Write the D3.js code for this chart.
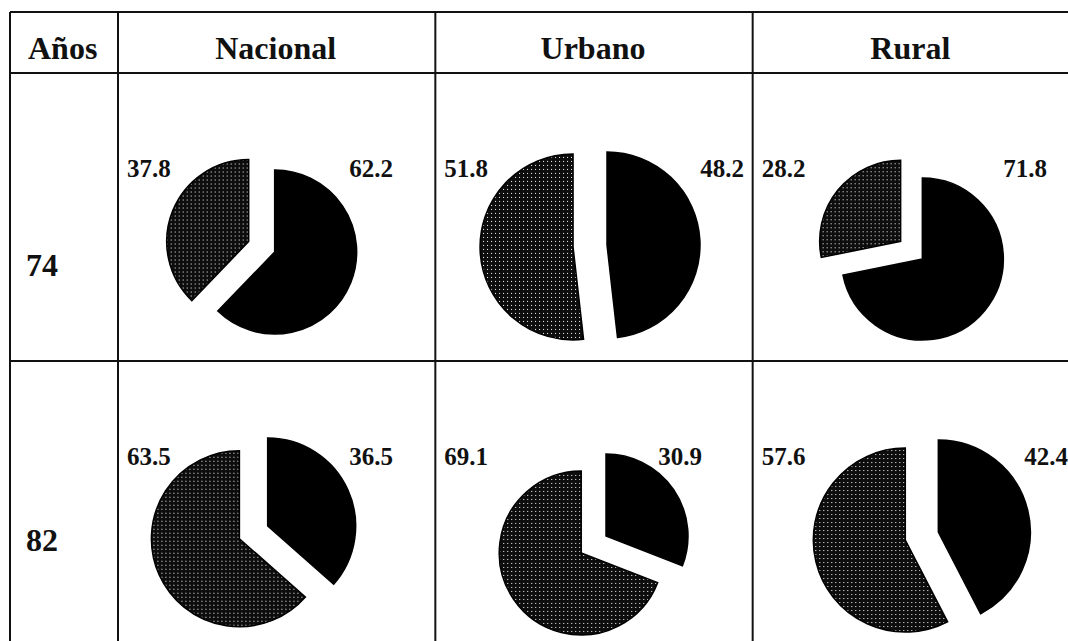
<!DOCTYPE html>
<html>
<head>
<meta charset="utf-8">
<script src="https://cdn.jsdelivr.net/npm/d3@7"></script>
<style>
  html, body { margin: 0; padding: 0; background: #fff; }
  svg { display: block; }
  text { font-family: "Liberation Serif", "DejaVu Serif", serif; font-weight: bold; fill: #111; }
</style>
</head>
<body>
<svg id="chart" width="1068" height="641"></svg>
<script>
// ---- data ----
const headerLabel = "Años";
const columns = ["Nacional", "Urbano", "Rural"];
const years = ["74", "82"];
const blackValues = [[62.2, 48.2, 71.8], [36.5, 30.9, 42.4]];   // right-hand label, solid slice
const dottedValues = [[37.8, 51.8, 28.2], [63.5, 69.1, 57.6]];  // left-hand label, stippled slice

// ---- layout ----
const tableLeft = 10, firstColRight = 118, tableRight = 1068;
const headerTop = 12, headerBottom = 73, rowDivider = 361, tableBottom = 641;
const colX = d3.scaleBand().domain(columns).range([firstColRight, tableRight + 2]);
// per-cell pie geometry (offset of solid-slice center from band center, radius, explode of stippled slice, right label x)
const pieGeom = [
  [{dx: -2, dy: 252, r: 82, ex: 28, lab: 393}, {dx: 13, dy: 245, r: 93, ex: 34, lab: 744}, {dx: 11, dy: 259, r: 81, ex: 28, lab: 1047}],
  [{dx: -9, dy: 526, r: 88, ex: 31, lab: 393}, {dx: 12, dy: 536, r: 82, ex: 30, lab: 702}, {dx: 27, dy: 532, r: 92, ex: 34, lab: 1068}]
];
const rowLabelY = [276, 551];
const valueLabelY = [177, 465];

const svg = d3.select("#chart");

// stipple pattern
const defs = svg.append("defs");
const pat = defs.append("pattern").attr("id", "stipple").attr("patternUnits", "userSpaceOnUse")
  .attr("width", 4).attr("height", 4);
pat.append("rect").attr("width", 4).attr("height", 4).attr("fill", "#0d0d0d");
pat.append("rect").attr("x", 2).attr("y", 2).attr("width", 1).attr("height", 1)
  .attr("fill", "#fff").attr("shape-rendering", "crispEdges");

// table grid
const g = svg.append("g").attr("stroke", "#111").attr("stroke-width", 2).attr("fill", "none");
[headerTop, headerBottom, rowDivider].forEach(y => {
  g.append("line").attr("x1", tableLeft).attr("x2", tableRight).attr("y1", y).attr("y2", y);
});
[tableLeft, firstColRight, ...columns.slice(1).map(c => colX(c))].forEach(x => {
  g.append("line").attr("x1", x).attr("x2", x).attr("y1", headerTop).attr("y2", tableBottom);
});

// header texts
const headerBase = 59;
svg.append("text").attr("x", 28).attr("y", headerBase).attr("font-size", 32).text(headerLabel);
columns.forEach(c => {
  svg.append("text").attr("x", colX(c) + colX.bandwidth() / 2 - 1).attr("y", headerBase)
    .attr("text-anchor", "middle").attr("font-size", 32).text(c);
});

// row labels
years.forEach((y, i) => {
  svg.append("text").attr("x", 26).attr("y", rowLabelY[i]).attr("font-size", 32).text(y);
});

// pies
const pie = d3.pie().sort(null).value(d => d.v);
years.forEach((yr, i) => {
  columns.forEach((c, j) => {
    const geo = pieGeom[i][j];
    const cx = colX(c) + colX.bandwidth() / 2 + geo.dx;
    const cy = geo.dy;
    const slices = pie([{k: "black", v: blackValues[i][j]}, {k: "dot", v: dottedValues[i][j]}]);
    const arc = d3.arc().innerRadius(0).outerRadius(geo.r);
    const cell = svg.append("g").attr("transform", `translate(${cx},${cy})`);
    slices.forEach(s => {
      let tx = 0, ty = 0;
      if (s.data.k === "dot") {
        const mid = (s.startAngle + s.endAngle) / 2;
        tx = Math.sin(mid) * geo.ex;
        ty = -Math.cos(mid) * geo.ex;
      }
      cell.append("path").attr("d", arc(s))
        .attr("transform", `translate(${tx},${ty})`)
        .attr("fill", s.data.k === "black" ? "#000" : "url(#stipple)")
        .attr("stroke", "#000").attr("stroke-width", 1.5);
    });
    // value labels
    svg.append("text").attr("x", colX(c) + 9).attr("y", valueLabelY[i])
      .attr("font-size", 25).text(dottedValues[i][j].toFixed(1));
    svg.append("text").attr("x", geo.lab).attr("y", valueLabelY[i])
      .attr("text-anchor", "end").attr("font-size", 25).text(blackValues[i][j].toFixed(1));
  });
});
</script>
</body>
</html>
